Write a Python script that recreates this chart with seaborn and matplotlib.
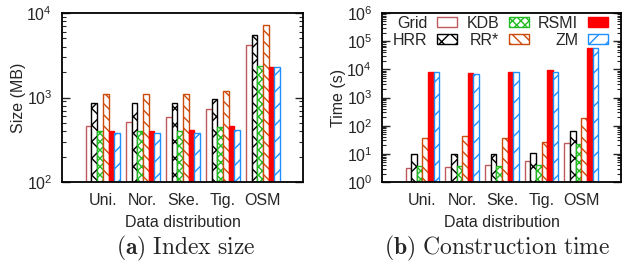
import matplotlib
matplotlib.use("Agg")
import matplotlib.pyplot as plt
from matplotlib.patches import Patch
from matplotlib.ticker import LogLocator, NullFormatter
import pandas as pd
import seaborn as sns


DISTRIBUTIONS = ["Uni.", "Nor.", "Ske.", "Tig.", "OSM"]
INDEXES = ["Grid", "HRR", "KDB", "RR*", "RSMI", "ZM"]

# index size (MB), one list per index, ordered as DISTRIBUTIONS
SIZE_GRID = [458, 516, 581, 730, 4170]
SIZE_HRR = [868, 868, 868, 960, 5530]
SIZE_KDB = [400, 400, 400, 447, 2365]
SIZE_RRSTAR = [1090, 1090, 1090, 1195, 7260]
SIZE_RSMI = [400, 400, 411, 454, 2325]
SIZE_ZM = [375, 375, 375, 411, 2280]

# construction time (s)
TIME_GRID = [3.15, 3.5, 3.9, 5.75, 24.5]
TIME_HRR = [9.7, 9.7, 9.7, 10.8, 64]
TIME_KDB = [3.6, 3.6, 3.6, 3.9, 23]
TIME_RRSTAR = [38, 42, 36, 26, 185]
TIME_RSMI = [8300, 7450, 7860, 9500, 56500]
TIME_ZM = [7860, 7050, 7860, 7860, 56500]

STYLES = {
    "Grid": dict(edge="#c05a5a", face="white", hatch=""),
    "HRR": dict(edge="black", face="white", hatch="xx"),
    "KDB": dict(edge="#22bb22", face="white", hatch="xxxx"),
    "RR*": dict(edge="#cc4a0a", face="white", hatch="\\\\\\"),
    "RSMI": dict(edge="#ff0000", face="#ff0000", hatch=""),
    "ZM": dict(edge="#1e8fff", face="white", hatch="//"),
}

FONT = 11.5


def build_frame(columns):
    rows = []
    for name, values in zip(INDEXES, columns):
        for dist, value in zip(DISTRIBUTIONS, values):
            rows.append({"dist": dist, "index": name, "value": value})
    return pd.DataFrame(rows)


def draw_panel(ax, df, ylim, ylabel):
    ax.set_yscale("log")
    sns.barplot(
        data=df, x="dist", y="value", hue="index",
        order=DISTRIBUTIONS, hue_order=INDEXES,
        width=0.85, gap=0, legend=False, ax=ax, errorbar=None,
    )
    for name, container in zip(INDEXES, ax.containers):
        st = STYLES[name]
        for bar in container:
            bar.set_facecolor(st["face"])
            bar.set_edgecolor(st["edge"])
            bar.set_hatch(st["hatch"])
            bar.set_linewidth(1.0)
    ax.set_xlim(-1.02, 5.0)
    ax.set_ylim(*ylim)
    ax.yaxis.set_major_locator(LogLocator(base=10, numticks=10))
    ax.yaxis.set_minor_locator(LogLocator(base=10, subs=range(2, 10), numticks=20))
    ax.yaxis.set_minor_formatter(NullFormatter())
    ax.tick_params(axis="y", which="both", direction="in", left=True, right=True,
                   labelsize=FONT, pad=7)
    ax.tick_params(axis="y", which="major", length=6, width=1)
    ax.tick_params(axis="y", which="minor", length=3, width=0.8)
    ax.tick_params(axis="x", length=0, labelsize=FONT, pad=8)
    ax.set_xlabel("Data distribution", fontsize=FONT, labelpad=5)
    ax.set_ylabel(ylabel, fontsize=FONT)
    ax.yaxis.set_label_coords(-0.15, 0.5)
    for side in ["left", "right", "top", "bottom"]:
        ax.spines[side].set_visible(True)
        ax.spines[side].set_color("black")
        ax.spines[side].set_linewidth(1.3)
    ax.grid(False)


def main():
    sns.set_style("white")
    plt.rcParams["font.family"] = ["Liberation Sans", "DejaVu Sans"]
    plt.rcParams["mathtext.fontset"] = "custom"
    plt.rcParams["mathtext.rm"] = "Liberation Sans"
    plt.rcParams["mathtext.it"] = "Liberation Sans:italic"
    plt.rcParams["hatch.linewidth"] = 1.0

    fig = plt.figure(figsize=(6.24, 2.74), dpi=100)
    ax1 = fig.add_axes([62 / 624, 1 - 182 / 274, 241 / 624, 169 / 274])
    ax2 = fig.add_axes([382 / 624, 1 - 182 / 274, 239 / 624, 169 / 274])

    size_df = build_frame([SIZE_GRID, SIZE_HRR, SIZE_KDB, SIZE_RRSTAR, SIZE_RSMI, SIZE_ZM])
    time_df = build_frame([TIME_GRID, TIME_HRR, TIME_KDB, TIME_RRSTAR, TIME_RSMI, TIME_ZM])

    draw_panel(ax1, size_df, (1e2, 1e4), "Size (MB)")
    draw_panel(ax2, time_df, (1e0, 1e6), "Time (s)")

    handles = [
        Patch(facecolor=STYLES[n]["face"], edgecolor=STYLES[n]["edge"],
              hatch=STYLES[n]["hatch"], linewidth=1.0, label=n)
        for n in INDEXES
    ]
    ax2.legend(
        handles=handles, loc="upper right", ncol=3, frameon=False,
        markerfirst=False, fontsize=FONT, handlelength=1.25, handleheight=0.55,
        handletextpad=0.6, columnspacing=0.6, labelspacing=0.12,
        bbox_to_anchor=(0.985, 1.04), borderaxespad=0.2,
    )

    fig.text(0.297, 0.095, r"$\mathbf{(a)}\ \mathrm{Index\ size}$",
             ha="center", va="center", fontsize=17, math_fontfamily="cm")
    fig.text(0.797, 0.095, r"$\mathbf{(b)}\ \mathrm{Construction\ time}$",
             ha="center", va="center", fontsize=17, math_fontfamily="cm")

    fig.savefig("out.png", dpi=100)
    plt.close(fig)


if __name__ == "__main__":
    main()
